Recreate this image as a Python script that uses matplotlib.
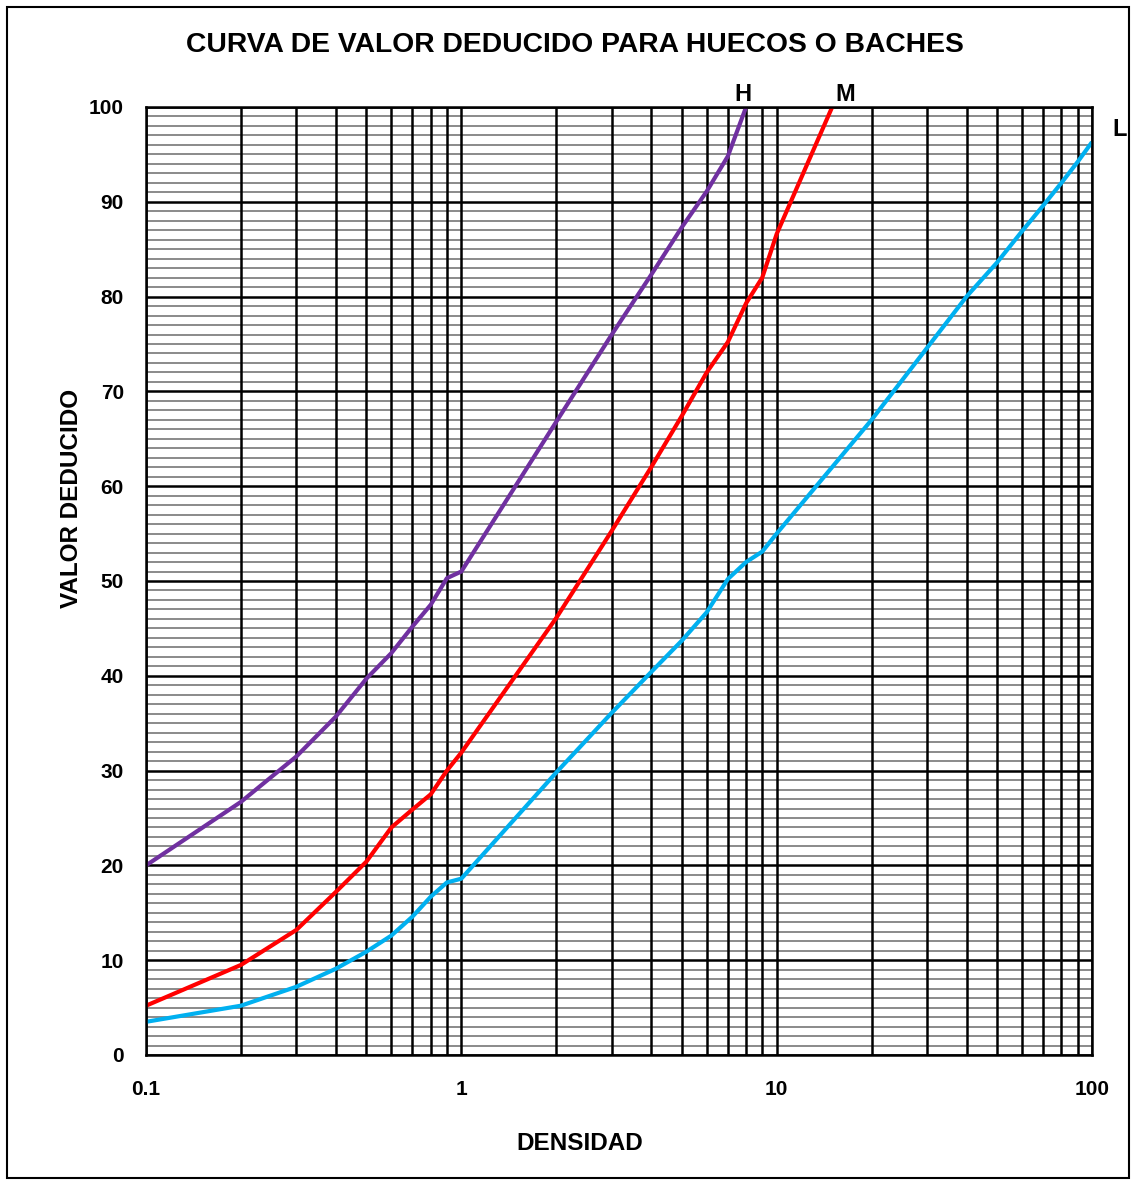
import matplotlib
matplotlib.use("Agg")
import matplotlib.pyplot as plt
from matplotlib.ticker import LogLocator, FixedLocator, NullFormatter, FixedFormatter
from matplotlib.patches import Rectangle

plt.rcParams['font.family'] = ['Liberation Sans', 'DejaVu Sans']
plt.rcParams['font.weight'] = 'bold'

# Density (%) and deduct value for each severity level
dens_h = [0.1, 0.2, 0.3, 0.4, 0.5, 0.6, 0.7, 0.8, 0.9, 1.0, 2.0, 3.0, 4.0, 5.0, 6.0, 7.0, 8.0]
vd_h = [20.0, 26.7, 31.5, 35.7, 39.7, 42.4, 45.2, 47.5, 50.3, 51.0, 66.8, 76.0, 82.3, 87.3, 91.1, 94.8, 100.0]

dens_m = [0.1, 0.2, 0.3, 0.4, 0.5, 0.6, 0.7, 0.8, 0.9, 1.0, 2.0, 3.0, 4.0, 5.0, 6.0, 7.0, 8.0, 9.0, 10.0, 15.0]
vd_m = [5.2, 9.5, 13.2, 17.2, 20.4, 24.0, 25.9, 27.5, 30.0, 31.9, 46.1, 55.3, 62.0, 67.4, 72.0, 75.2, 79.3, 82.0, 86.6, 100.0]

dens_l = [0.1, 0.2, 0.3, 0.4, 0.5, 0.6, 0.7, 0.8, 0.9, 1.0, 2.0, 3.0, 4.0, 5.0, 6.0, 7.0, 8.0, 9.0, 10.0,
          20.0, 30.0, 40.0, 50.0, 60.0, 70.0, 80.0, 90.0, 100.0]
vd_l = [3.5, 5.2, 7.2, 9.1, 10.9, 12.6, 14.6, 16.7, 18.2, 18.6, 29.8, 36.1, 40.4, 43.7, 46.7, 50.2, 52.0, 53.1, 55.0,
        67.0, 74.6, 80.0, 83.6, 86.9, 89.6, 92.0, 94.2, 96.3]

x_ticks = [0.1, 1, 10, 100]
x_tick_labels = ['0.1', '1', '10', '100']
y_ticks = list(range(0, 101, 10))

W, H = 1136, 1183
fig = plt.figure(figsize=(W / 100, H / 100), dpi=100)
ax = fig.add_axes([146 / W, 1 - 1055 / H, (1092 - 146) / W, (1055 - 107) / H])

# Grid: gray minor horizontals, black majors and log subdivisions
for v in range(1, 100):
    if v % 10:
        ax.axhline(v, color='#8a8a8a', lw=1.4, zorder=1)
for v in y_ticks:
    ax.axhline(v, color='black', lw=1.8, zorder=1.5)
for dec in [0.1, 1, 10]:
    for k in range(1, 10):
        ax.axvline(dec * k, color='black', lw=1.8, zorder=1.5)
ax.axvline(100, color='black', lw=1.8, zorder=1.5)

line_kw = dict(lw=3.0, zorder=3, solid_joinstyle='round', solid_capstyle='butt')
ax.plot(dens_h, vd_h, color='#7030A0', **line_kw)
ax.plot(dens_m, vd_m, color='#FF0000', **line_kw)
ax.plot(dens_l, vd_l, color='#00B0F0', **line_kw)

ax.set_xscale('log')
ax.set_xlim(0.1, 100)
ax.set_ylim(0, 100)
ax.xaxis.set_major_locator(FixedLocator(x_ticks))
ax.xaxis.set_major_formatter(FixedFormatter(x_tick_labels))
ax.xaxis.set_minor_locator(LogLocator(base=10, subs=range(2, 10)))
ax.xaxis.set_minor_formatter(NullFormatter())
ax.yaxis.set_major_locator(FixedLocator(y_ticks))
ax.tick_params(which='both', length=0)
ax.tick_params(axis='x', pad=18, labelsize=15)
ax.tick_params(axis='y', pad=16, labelsize=15)
for lab in ax.get_xticklabels() + ax.get_yticklabels():
    lab.set_fontweight('bold')
for s in ax.spines.values():
    s.set_linewidth(1.8)
    s.set_zorder(4)

# Axis titles
fig.text(580 / W, 1 - 1143 / H, 'DENSIDAD', fontsize=17.5, fontweight='bold', ha='center', va='center')
fig.text(72 / W, 1 - 498 / H, 'VALOR DEDUCIDO', fontsize=17.5, fontweight='bold', ha='center', va='center',
         rotation=90)

# Severity labels
ax.text(7.8, 101.3, 'H', fontsize=17, fontweight='bold', ha='center', va='center', clip_on=False)
ax.text(16.5, 101.3, 'M', fontsize=17, fontweight='bold', ha='center', va='center', clip_on=False)
ax.text(122, 97.6, 'L', fontsize=17, fontweight='bold', ha='center', va='center', clip_on=False)

fig.text(575 / W, 1 - 45 / H, 'CURVA DE VALOR DEDUCIDO PARA HUECOS O BACHES',
         fontsize=20.3, fontweight='bold', ha='center', va='center')

# Outer frame of the chart area
fig.patches.append(Rectangle((7 / W, 5 / H), 1122 / W, 1171 / H, transform=fig.transFigure,
                             fill=False, edgecolor='black', lw=1.5))

fig.savefig('out.png', dpi=100)
